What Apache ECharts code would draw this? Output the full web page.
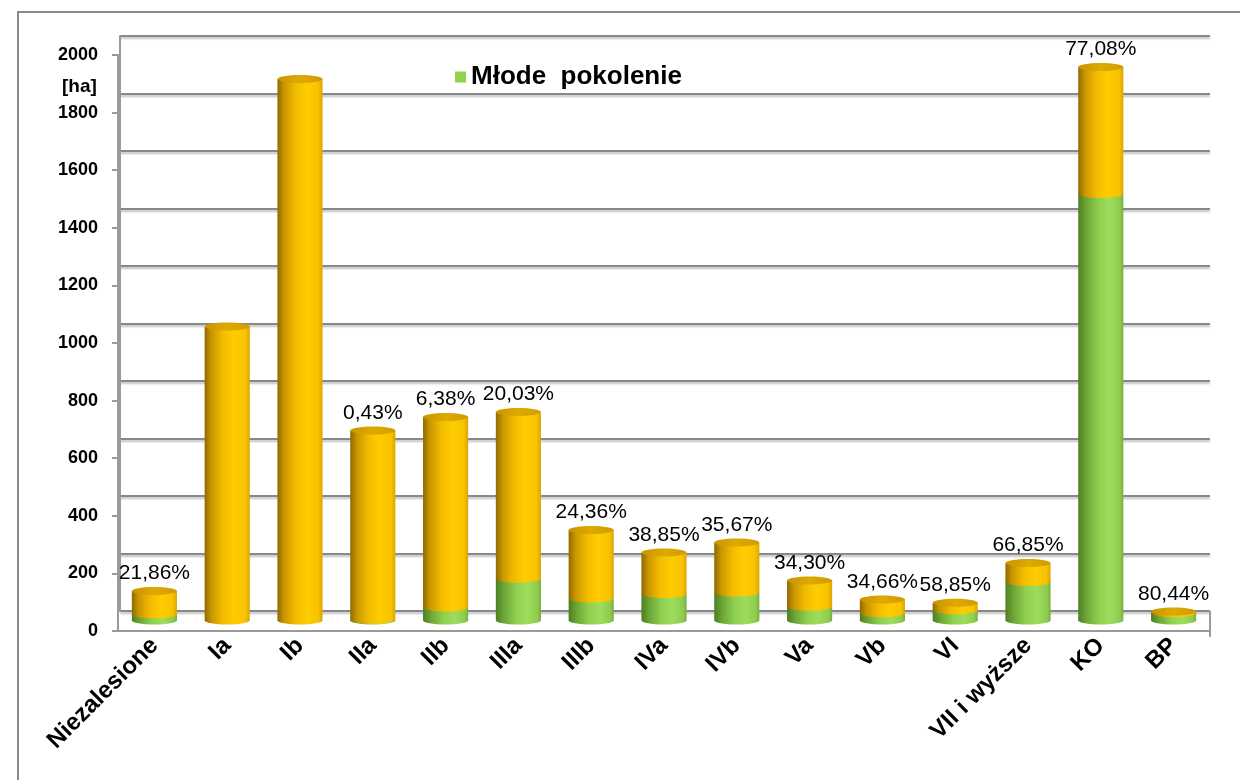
<!DOCTYPE html>
<html>
<head>
<meta charset="utf-8">
<script src="https://cdn.jsdelivr.net/npm/echarts@6/dist/echarts.min.js"></script>
<style>
  html, body { margin: 0; padding: 0; background: #fff; }
  #chart { width: 1240px; height: 780px; }
</style>
</head>
<body>
<div id="chart"></div>
<script>
// kategorie
const categories = ['Niezalesione', 'Ia', 'Ib', 'IIa', 'IIb', 'IIIa', 'IIIb', 'IVa', 'IVb', 'Va', 'Vb', 'VI', 'VII i wyższe', 'KO', 'BP']
// młode pokolenie [ha]
const young = [22, 0, 0, 3, 45, 145, 76, 92, 97, 48, 25, 36, 134, 1481, 25]
// pozostała powierzchnia [ha]
const older = [80, 1021, 1880, 657, 662, 579, 238, 144, 174, 91, 48, 26, 66, 441, 6]
// etykiety udziału
const pctLabels = ['21,86%', '', '', '0,43%', '6,38%', '20,03%', '24,36%', '38,85%', '35,67%', '34,30%', '34,66%', '58,85%', '66,85%', '77,08%', '80,44%']

const FONT = 'Liberation Sans, Arial, sans-serif'

const orangeGrad = {
  type: 'linear', x: 0, y: 0, x2: 1, y2: 0,
  colorStops: [
    { offset: 0, color: '#8f6a00' },
    { offset: 0.15, color: '#c99600' },
    { offset: 0.4, color: '#f2bb00' },
    { offset: 0.65, color: '#ffcc00' },
    { offset: 0.9, color: '#f8c300' },
    { offset: 1, color: '#dba600' }
  ]
}
const topGrad = {
  type: 'linear', x: 0, y: 0, x2: 1, y2: 0,
  colorStops: [
    { offset: 0, color: '#c99500' },
    { offset: 0.5, color: '#dcaa00' },
    { offset: 1, color: '#d09c00' }
  ]
}
const greenGrad = {
  type: 'linear', x: 0, y: 0, x2: 1, y2: 0,
  colorStops: [
    { offset: 0, color: '#4c7f22' },
    { offset: 0.18, color: '#6da636' },
    { offset: 0.45, color: '#90d050' },
    { offset: 0.7, color: '#9ddc5c' },
    { offset: 0.92, color: '#8fcc4e' },
    { offset: 1, color: '#74b03c' }
  ]
}

// walec: zielony dół, pomarańczowa góra
const renderCylinder = (params, api) => {
  const i = api.value(0)
  const g = api.value(1)
  const o = api.value(2)
  const base = api.coord([i, 0])
  const mid = api.coord([i, g])
  const top = api.coord([i, g + o])
  const w = api.size([1, 0])[0] * 0.62
  const rx = w / 2
  const ry = 4
  const cx = base[0]
  const children = []
  if (g > 0) {
    children.push({ type: 'ellipse', shape: { cx, cy: base[1], rx, ry }, style: { fill: greenGrad } })
    children.push({ type: 'rect', shape: { x: cx - rx, y: mid[1], width: w, height: base[1] - mid[1] }, style: { fill: greenGrad } })
  }
  children.push({ type: 'ellipse', shape: { cx, cy: mid[1], rx, ry }, style: { fill: orangeGrad } })
  children.push({ type: 'rect', shape: { x: cx - rx, y: top[1], width: w, height: mid[1] - top[1] }, style: { fill: orangeGrad } })
  children.push({ type: 'ellipse', shape: { cx, cy: top[1], rx, ry }, style: { fill: topGrad } })
  const label = pctLabels[params.dataIndex]
  if (label) {
    children.push({
      type: 'text',
      style: {
        text: label, x: cx, y: top[1] - ry - 3,
        align: 'center', verticalAlign: 'bottom',
        fontSize: 21, fontFamily: FONT, fill: '#000'
      }
    })
  }
  return { type: 'group', children }
}

const chart = echarts.init(document.getElementById('chart'))

const frameAndName = [
  { type: 'rect', shape: { x: 18, y: 12, width: 1400, height: 900 }, style: { fill: 'none', stroke: '#8a8a8a', lineWidth: 2 }, silent: true },
  { type: 'text', left: 62, top: 77, style: { text: '[ha]', fontSize: 19, fontWeight: 'bold', fontFamily: FONT, fill: '#000' } }
]

const option = {
  backgroundColor: '#fff',
  animation: false,
  legend: {
    left: 450, top: 59,
    itemWidth: 11, itemHeight: 11, itemGap: 4,
    data: [{ name: 'Młode  pokolenie', icon: 'rect', itemStyle: { color: '#92d050' } }],
    textStyle: { fontSize: 26, fontWeight: 'bold', fontFamily: FONT, color: '#000' },
    selectedMode: false
  },
  grid: [
    // przednia oś
    { left: 118, right: 30, top: 55, height: 576 },
    // tylna ściana
    { left: 120, right: 30, top: 36, height: 575 },
    // płaszczyzna słupków
    { left: 118, right: 30, top: 44.5, height: 576 }
  ],
  xAxis: [
    {
      type: 'category', gridIndex: 0, data: categories,
      axisLine: { lineStyle: { color: '#9a9a9a', width: 2 } },
      axisTick: { length: 6, lineStyle: { color: '#9a9a9a', width: 2 } },
      axisLabel: { rotate: 45, fontSize: 24, fontWeight: 'bold', fontFamily: FONT, color: '#000', margin: 11 }
    },
    { type: 'category', gridIndex: 1, data: categories, show: false },
    { type: 'category', gridIndex: 2, data: categories, show: false }
  ],
  yAxis: [
    {
      type: 'value', gridIndex: 0, min: 0, max: 2000, interval: 200,
      axisLine: { show: true, lineStyle: { color: '#9a9a9a', width: 2 } },
      axisTick: { show: true, length: 6, lineStyle: { color: '#9a9a9a', width: 2 } },
      axisLabel: { fontSize: 18, fontWeight: 'bold', fontFamily: FONT, color: '#000', margin: 20, formatter: v => String(v) },
      splitLine: { show: false }
    },
    {
      type: 'value', gridIndex: 1, min: 0, max: 2000, interval: 200,
      axisLine: { show: true, lineStyle: { color: '#9a9a9a', width: 2 } },
      axisTick: { show: false }, axisLabel: { show: false },
      splitLine: { show: true, lineStyle: { color: '#888888', width: 2, shadowColor: 'rgba(0,0,0,0.25)', shadowOffsetY: 2, shadowBlur: 2 } }
    },
    { type: 'value', gridIndex: 2, min: 0, max: 2000, show: false }
  ],
  graphic: frameAndName,
  series: [
    {
      name: 'Młode  pokolenie',
      type: 'custom',
      xAxisIndex: 2, yAxisIndex: 2,
      itemStyle: { color: '#92d050' },
      renderItem: renderCylinder,
      data: categories.map((c, i) => [i, young[i], older[i]]),
      z: 5
    }
  ]
}

chart.setOption(option)

// prawa krawędź podłogi
const back0 = chart.convertToPixel({ xAxisIndex: 1, yAxisIndex: 1 }, [categories.length - 1, 0])
const front0 = chart.convertToPixel({ xAxisIndex: 0, yAxisIndex: 0 }, [categories.length - 1, 0])
const halfBand = (chart.convertToPixel({ xAxisIndex: 0, yAxisIndex: 0 }, [1, 0])[0] - chart.convertToPixel({ xAxisIndex: 0, yAxisIndex: 0 }, [0, 0])[0]) / 2
chart.setOption({
  graphic: frameAndName.concat([
    { type: 'line', shape: { x1: front0[0] + halfBand, y1: back0[1], x2: front0[0] + halfBand, y2: front0[1] + 6 }, style: { stroke: '#9a9a9a', lineWidth: 2 }, silent: true }
  ])
}, { replaceMerge: ['graphic'] })
</script>
</body>
</html>
